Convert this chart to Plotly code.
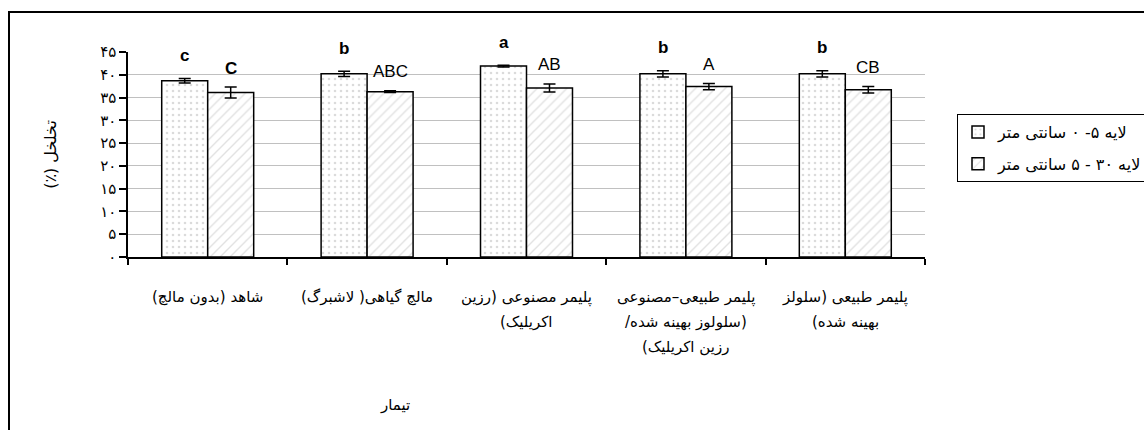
import plotly.graph_objects as go

RLM = "\u200f"

categories = ["شاهد (بدون مالچ)", "مالچ گیاهی( لاشبرگ)", "پلیمر مصنوعی (رزین اکریلیک)",
              "پلیمر طبیعی–مصنوعی (سلولوز بهینه شده/ رزین اکریلیک)", "پلیمر طبیعی (سلولز بهینه شده)"]
category_lines = [
    ["شاهد (بدون مالچ)"],
    ["مالچ گیاهی( لاشبرگ)"],
    ["پلیمر مصنوعی (رزین", "اکریلیک)"],
    ["پلیمر طبیعی–مصنوعی", "(سلولوز بهینه شده/", "رزین اکریلیک)"],
    ["پلیمر طبیعی (سلولز", "بهینه شده)"],
]
series_names = ["لایه ۵- ۰ سانتی متر", "لایه ۳۰ - ۵ سانتی متر"]
layer1_values = [38.7, 40.2, 41.9, 40.2, 40.2]
layer1_errors = [0.5, 0.6, 0.2, 0.7, 0.7]
layer2_values = [36.1, 36.3, 37.1, 37.4, 36.7]
layer2_errors = [1.2, 0.2, 0.9, 0.7, 0.7]
layer1_letters = ["c", "b", "a", "b", "b"]
layer2_letters = ["C", "ABC", "AB", "A", "CB"]
layer2_bold = [True, False, False, False, False]
y_tick_values = [0, 5, 10, 15, 20, 25, 30, 35, 40, 45]
y_tick_labels = ["۰", "۵", "۱۰", "۱۵", "۲۰", "۲۵", "۳۰", "۳۵", "۴۰", "۴۵"]
y_title = "تخلخل (٪)"
x_title = "تیمار"

FA = "DejaVu Sans"
LAT = "Liberation Sans, Arial"

def rtl(s):
    return RLM + s + RLM

fig = go.Figure()
fig.add_trace(go.Bar(
    x=categories, y=layer1_values, name=rtl(series_names[0]),
    legendgroup="g1",
    error_y=dict(type="data", array=layer1_errors, color="black", thickness=1.5, width=6),
    marker=dict(color="white", line=dict(color="black", width=1.5),
                pattern=dict(shape=".", fgcolor="#b8b8b8", bgcolor="white", size=6, solidity=0.15)),
))
fig.add_trace(go.Bar(
    x=categories, y=layer2_values, name=rtl(series_names[1]),
    legendgroup="g2",
    error_y=dict(type="data", array=layer2_errors, color="black", thickness=1.5, width=6),
    marker=dict(color="white", line=dict(color="black", width=1.5),
                pattern=dict(shape="/", fgcolor="#c4c4c4", bgcolor="white", size=7, solidity=0.2)),
))

annotations = []
for i, c in enumerate(categories):
    annotations.append(dict(x=c, y=layer1_values[i] + layer1_errors[i], xref="x", yref="y",
                            xshift=-23, yshift=23, text="<b>%s</b>" % layer1_letters[i],
                            showarrow=False, yanchor="middle",
                            font=dict(family=LAT, size=17, color="black")))
    t = layer2_letters[i]
    if layer2_bold[i]:
        t = "<b>%s</b>" % t
    annotations.append(dict(x=c, y=layer2_values[i] + layer2_errors[i], xref="x", yref="y",
                            xshift=23, yshift=19, text=t,
                            showarrow=False, yanchor="middle",
                            font=dict(family=LAT, size=17, color="black")))
    for j, line in enumerate(category_lines[i]):
        annotations.append(dict(x=c, y=0, xref="x", yref="paper", yshift=-(40 + 25 * j),
                                text=rtl(line), showarrow=False, yanchor="middle",
                                font=dict(family=FA, size=15, color="black")))

annotations.append(dict(x=(395 - 128) / 797, y=(257 - 405) / 205, xref="paper", yref="paper",
                        text=rtl(x_title), showarrow=False, yanchor="middle", xanchor="center",
                        font=dict(family=FA, size=15, color="black")))

shapes = [dict(type="rect", xref="paper", yref="paper",
               x0=(9 - 128) / 797, x1=(1160 - 128) / 797,
               y0=(257 - 450) / 205, y1=(257 - 12) / 205,
               line=dict(color="black", width=2), fillcolor="rgba(0,0,0,0)", layer="below")]

fig.update_layout(
    width=1144, height=430,
    margin=dict(l=128, r=219, t=52, b=173, autoexpand=False),
    paper_bgcolor="white", plot_bgcolor="white",
    barmode="group", bargap=0.423, bargroupgap=0,
    showlegend=True,
    legend=dict(x=(957 - 128) / 797, y=(257 - 114) / 205, xanchor="left", yanchor="top",
                bordercolor="black", borderwidth=1, bgcolor="white",
                font=dict(family=FA, size=16, color="black"),
                tracegroupgap=8, traceorder="grouped"),
    annotations=annotations,
    shapes=shapes,
    xaxis=dict(showticklabels=False, showline=True, linecolor="black", linewidth=1.5,
               ticks="outside", tickson="boundaries", ticklen=6, tickcolor="black",
               tickwidth=1.5, showgrid=False, zeroline=False),
    yaxis=dict(range=[0, 45], tickvals=y_tick_values, ticktext=y_tick_labels,
               showline=True, linecolor="black", linewidth=1.5,
               ticks="outside", ticklen=7, tickcolor="black", tickwidth=1.5,
               showgrid=True, gridcolor="#c0c0c0", gridwidth=1.2, zeroline=False,
               tickfont=dict(family=FA, size=15, color="black"),
               title=dict(text=rtl(y_title), font=dict(family=FA, size=16, color="black"),
                          standoff=40)),
)

fig.write_html("out.html")
